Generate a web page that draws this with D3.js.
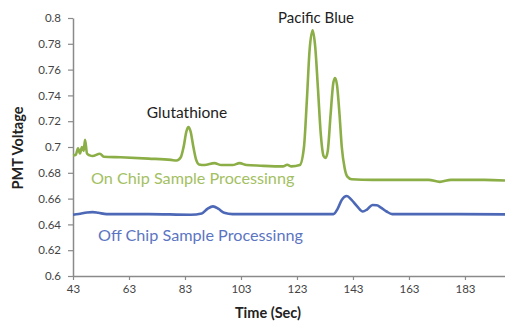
<!DOCTYPE html>
<html><head><meta charset="utf-8">
<script src="https://cdn.jsdelivr.net/npm/d3@7"></script>
<style>body{margin:0;background:#fff}svg{display:block}</style>
</head><body><svg id="c" width="505" height="322"></svg>
<script>
const xTicks = [43, 63, 83, 103, 123, 143, 163, 183];
const yTicks = [0.6, 0.62, 0.64, 0.66, 0.68, 0.7, 0.72, 0.74, 0.76, 0.78, 0.8];
const yTickLabels = ["0.6","0.62","0.64","0.66","0.68","0.7","0.72","0.74","0.76","0.78","0.8"];

const onChipTime = [43,44,44.8,45.5,46.2,46.8,47.3,48,49,50,52.6,54,60,70,78,80,81.5,82.5,83.5,84.2,85,86,87,88,90,93.5,96,100,102.5,105,110,118,119.5,121,124,125.5,126.5,127.5,128.6,129.5,130.5,131.5,132.5,133.2,134,135,136,136.6,137.3,138.2,139,140,141,142.5,150,160,170,174,178,190,197.3];
const onChipValue = [0.6935,0.694,0.699,0.695,0.700,0.697,0.7055,0.695,0.6935,0.693,0.6948,0.6925,0.692,0.691,0.690,0.6895,0.692,0.700,0.712,0.7155,0.712,0.700,0.690,0.6865,0.686,0.6875,0.686,0.686,0.6875,0.686,0.6855,0.685,0.6862,0.685,0.686,0.700,0.735,0.775,0.7905,0.778,0.745,0.710,0.693,0.6915,0.697,0.725,0.750,0.7535,0.748,0.725,0.700,0.684,0.677,0.675,0.6745,0.6745,0.6745,0.673,0.6745,0.6745,0.674];

const offChipTime = [43,45,48,50,52,55,70,85,89,91,93,95,97,100,120,136,137.5,139,140.8,142.5,144.5,146.5,148,150,151.5,153,155,157,170,197.3];
const offChipValue = [0.6475,0.648,0.6492,0.6495,0.649,0.648,0.648,0.6475,0.6485,0.652,0.654,0.652,0.649,0.648,0.648,0.648,0.652,0.659,0.662,0.659,0.654,0.650,0.6515,0.655,0.6548,0.653,0.650,0.648,0.648,0.6478];

const annotations = ["Glutathione", "Pacific Blue", "On Chip Sample Processinng", "Off Chip Sample Processinng"];

const svg = d3.select("#c");
const font = "Lato, 'Open Sans', sans-serif";
const x = d3.scaleLinear().domain([43, 197.3]).range([73, 505]);
const y = d3.scaleLinear().domain([0.6, 0.8]).range([276, 18]);

// axes
const xAxis = svg.append("g").attr("transform", "translate(0,276)")
  .call(d3.axisBottom(x).tickValues(xTicks).tickSize(4).tickSizeOuter(0).tickPadding(5));
const yAxis = svg.append("g").attr("transform", "translate(73,0)")
  .call(d3.axisLeft(y).tickValues(yTicks).tickFormat((d,i)=>yTickLabels[i]).tickSize(5).tickSizeOuter(0).tickPadding(7));
[xAxis, yAxis].forEach(g => {
  g.selectAll("path").attr("stroke", "#8a8a8a").attr("stroke-width", 1.5);
  g.selectAll("line").attr("stroke", "#8a8a8a").attr("stroke-width", 1.2);
  g.selectAll("text").attr("fill", "#444").style("font-family", font).style("font-size", "11.5px");
});

const line = d3.line().x(d => x(d[0])).y(d => y(d[1])).curve(d3.curveMonotoneX);
svg.append("path").datum(onChipTime.map((t,i)=>[t,onChipValue[i]]))
  .attr("d", line).attr("fill","none").attr("stroke","#8cae47").attr("stroke-width",2.6).attr("stroke-linejoin","round");
svg.append("path").datum(offChipTime.map((t,i)=>[t,offChipValue[i]]))
  .attr("d", line).attr("fill","none").attr("stroke","#4c68b6").attr("stroke-width",2.6).attr("stroke-linejoin","round");

// annotations
svg.append("text").attr("x",187).attr("y",118).attr("text-anchor","middle")
  .style("font-family",font).style("font-size","15.5px").attr("fill","#222").text(annotations[0]);
svg.append("text").attr("x",316).attr("y",23).attr("text-anchor","middle")
  .style("font-family",font).style("font-size","15px").attr("fill","#222").text(annotations[1]);
svg.append("text").attr("x",91).attr("y",184)
  .style("font-family",font).style("font-size","16.2px").attr("fill","#a3c062").text(annotations[2]);
svg.append("text").attr("x",98).attr("y",241)
  .style("font-family",font).style("font-size","16.2px").attr("fill","#5b75c2").text(annotations[3]);

// axis titles
svg.append("text").attr("transform","translate(23,148) rotate(-90)").attr("text-anchor","middle")
  .style("font-family",font).style("font-size","14.5px").style("font-weight","bold").attr("fill","#222").text("PMT Voltage");
svg.append("text").attr("x",268).attr("y",318).attr("text-anchor","middle")
  .style("font-family",font).style("font-size","14.5px").style("font-weight","bold").attr("fill","#222").text("Time (Sec)");
</script></body></html>
